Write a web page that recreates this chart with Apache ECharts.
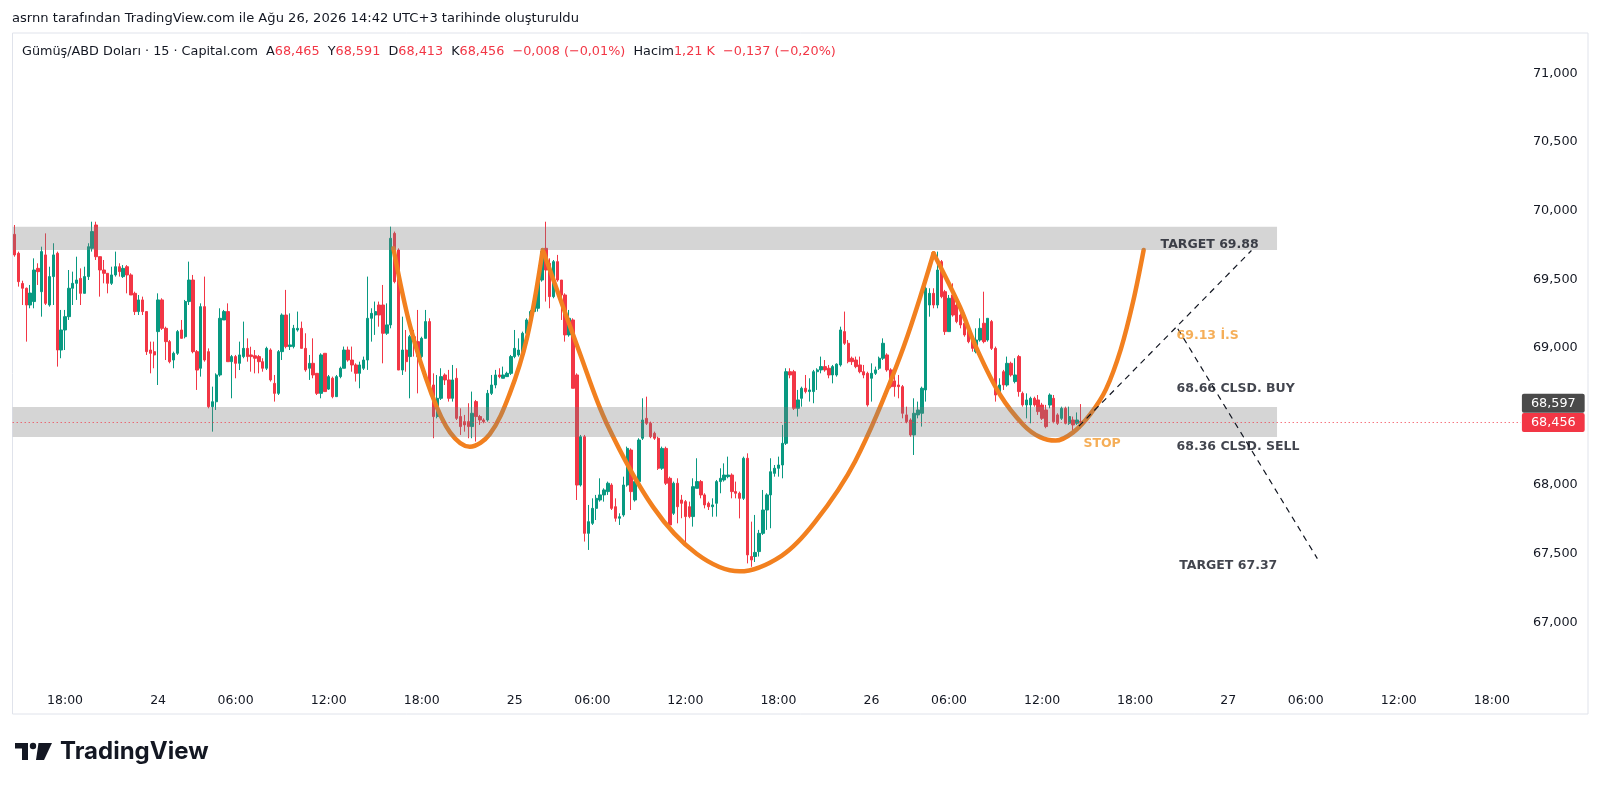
<!DOCTYPE html>
<html>
<head>
<meta charset="utf-8">
<script src="https://cdn.jsdelivr.net/npm/echarts@6/dist/echarts.min.js"></script>
<style>
html,body{margin:0;padding:0;background:#fff;}
#chart{width:1600px;height:789px;}
</style>
</head>
<body>
<div id="chart"></div>
<script>
// ---------- DATA ----------
// 15-minute bars, Aug 23 14:45 -> Aug 26 14:30 (UTC+3)
const openPrices = [
69828,69690,69470,69435,69313,69338,69580,69410,69678,69313,69520,69690,68985,69131,69228,69435,69471,69507,69398,69520,
69726,69896,69665,69568,69544,69471,69532,69592,69520,69592,69532,69398,69265,69350,69265,68985,68973,69119,69350,69143,
69046,68912,68961,69131,69082,69338,69495,68973,68852,69301,68973,68572,68608,68803,69204,69265,68900,68937,68888,68937,
68997,68949,68943,68937,68900,68852,68985,68742,68669,68973,69240,69010,69010,69131,69143,68997,68852,68888,68815,68669,
68961,68700,68779,68645,68791,68852,68985,68912,68876,68815,68852,68912,69216,69240,69313,69313,69107,69168,69835,69714,
68839,68985,68937,69082,69046,68937,69070,69192,68730,68500,68633,68803,68767,68633,68779,68500,68463,68463,68427,68609,
68500,68475,68475,68669,68730,68803,68779,68791,68815,68937,68949,68949,69107,69204,69265,69289,69495,69726,69617,69374,
69629,69495,69386,69095,69204,68803,68001,68353,67649,67722,67831,67892,67929,67953,68001,67843,67759,67783,68001,68256,
67892,68026,68342,68487,68451,68378,68342,68123,68268,68050,67795,68014,67892,67880,67843,67771,67977,68026,67929,67868,
67843,67868,68026,68038,68062,68074,67953,67941,67904,68196,67480,67480,67516,67649,67819,67929,68086,68123,68147,68305,
68827,68827,68560,68633,68706,68682,68682,68827,68840,68864,68852,68803,68803,68876,69119,69034,68925,68912,68876,68827,
68815,68779,68815,68852,68925,68949,68840,68760,68730,68718,68512,68475,68366,68512,68524,68694,69313,69398,69313,69629,
69410,69119,69386,69313,69240,69180,69143,69082,68973,69058,69180,69058,69192,68997,68657,68827,68730,68888,68755,68937,
68669,68585,68585,68633,68621,68584,68548,68584,68633,68512,68487,68560,68451,68475,68451,68465
];
const closePrices = [
69678,69483,69435,69313,69400,69568,69556,69702,69325,69520,69678,68985,69131,69228,69435,69471,69495,69398,69520,69738,
69848,69665,69568,69544,69471,69532,69592,69556,69580,69532,69386,69265,69350,69265,68973,68961,68949,69350,69143,69046,
68900,68961,69119,69070,69338,69495,68973,68839,69301,68912,68572,68608,68803,69216,69265,68900,68937,68888,68949,68997,
68937,68937,68925,68900,68852,68997,68767,68669,68973,69240,69010,69022,69143,69143,68997,68840,68888,68803,68669,68949,
68682,68791,68645,68791,68852,68985,68912,68876,68815,68876,68912,69216,69252,69265,69240,69107,69168,69799,69483,68839,
68985,68900,69082,69046,68937,69070,69192,68730,68500,68633,68791,68767,68633,68767,68487,68427,68439,68427,68524,68500,
68475,68463,68669,68730,68803,68791,68803,68815,68937,68997,68985,69107,69204,69265,69313,69495,69702,69568,69374,69629,
69495,69386,69095,69216,68706,68001,68353,67649,67734,67831,67904,67929,67965,68014,67831,67759,67770,68001,68268,67953,
68026,68329,68475,68451,68353,68342,68123,68268,68014,67710,68014,67843,67868,67771,67771,67989,68026,67929,67856,67843,
67856,68026,68050,68074,68074,67953,67941,67904,68196,67492,67455,67510,67649,67819,67929,68098,68123,68147,68305,68827,
68803,68560,68621,68706,68682,68694,68827,68840,68864,68840,68803,68864,68882,69131,69034,68900,68900,68864,68827,68803,
68585,68815,68840,68925,69034,68840,68718,68718,68718,68524,68463,68366,68524,68548,68706,69435,69398,69313,69568,69374,
69119,69362,69240,69192,69168,69095,69046,68997,69058,69143,69046,69216,68997,68657,68730,68730,68888,68803,68803,68682,
68585,68621,68633,68585,68536,68487,68427,68657,68463,68451,68560,68451,68500,68439,68475,68456
];
const highPrices = [
69896,69702,69490,69440,69459,69653,69617,69738,69835,69592,69763,69702,69277,69277,69568,69556,69665,69580,69592,69763,
69920,69920,69665,69641,69544,69592,69702,69617,69604,69604,69544,69410,69386,69374,69265,69046,69046,69398,69362,69155,
69058,68973,69131,69204,69350,69629,69532,68985,69325,69520,68997,68718,68815,69289,69277,69325,68949,68949,69046,69192,
69070,69009,68985,68949,68925,69009,68997,68803,68985,69252,69423,69252,69168,69265,69192,69107,68949,69070,68815,68961,
68961,68803,68791,68803,68864,69010,69010,69010,68888,68900,68937,69520,69289,69338,69338,69459,69325,69884,69848,69726,
69228,69131,69095,69131,69277,69082,69277,69216,68815,68803,68852,68815,68840,68876,68852,68560,68512,68597,68682,68621,
68512,68487,68694,68803,68840,68852,68864,68827,68949,69131,69070,69119,69216,69277,69325,69507,69726,69920,69653,69641,
69678,69495,69398,69277,69216,68815,68366,68366,67856,67904,67929,68050,67977,68026,68014,67904,67795,68062,68281,68268,
68050,68342,68633,68645,68463,68390,68353,68281,68281,68062,68026,68050,67929,67892,67880,68050,68196,68038,67941,67880,
67904,68038,68123,68159,68208,68086,68026,67953,68208,68232,67734,67783,67674,67965,67941,68196,68147,68208,68439,68852,
68852,68840,68694,68718,68803,68779,68840,68852,68937,68912,68876,68876,68888,69155,69265,69058,68937,68937,68937,68876,
68827,68888,68864,68937,69070,68961,68852,68803,68803,68730,68572,68487,68633,68609,68718,69447,69435,69435,69702,69641,
69423,69386,69471,69325,69252,69192,69155,69095,69143,69216,69410,69216,69204,69010,68779,68840,68937,68900,68925,68949,
68682,68669,68645,68645,68657,68600,68585,68669,68657,68524,68572,68572,68572,68500,68530,68591
];
const lowPrices = [
69665,69447,69313,69046,69289,69289,69459,69228,69313,69301,69313,68864,68925,68985,69204,69313,69350,69313,69398,69495,
69702,69641,69374,69471,69398,69459,69520,69520,69510,69398,69386,69240,69240,69240,68949,68815,68852,68730,69131,68912,
68888,68852,68949,69070,69070,69313,68961,68694,68791,68900,68560,68390,68548,68791,69204,68900,68633,68779,68839,68925,
68900,68827,68815,68815,68827,68839,68755,68609,68657,68912,68997,68985,68997,69119,68997,68827,68767,68779,68657,68633,
68682,68694,68633,68645,68779,68852,68900,68827,68755,68706,68839,68840,69046,69095,69155,68888,69095,69143,69471,68839,
68803,68827,68633,68937,68669,68925,69070,68718,68342,68487,68621,68730,68609,68609,68475,68366,68390,68342,68342,68318,
68439,68451,68463,68657,68706,68779,68779,68791,68803,68925,68937,68937,69082,69192,69252,69265,69483,69338,69289,69362,
69483,69204,69046,69082,68706,67892,67990,67589,67528,67710,67746,67880,67880,67929,67819,67734,67710,67770,67989,67819,
67880,68014,68329,68439,68342,68330,68111,68111,68001,67698,67783,67722,67759,67552,67759,67698,67977,67904,67831,67819,
67770,67771,67941,68026,68050,67904,67904,67758,67892,67430,67405,67440,67480,67637,67674,67686,68062,68062,68050,68293,
68779,68548,68500,68572,68669,68609,68597,68694,68815,68827,68779,68742,68791,68864,69022,68888,68876,68852,68815,68779,
68572,68609,68803,68840,68912,68827,68706,68645,68633,68487,68451,68353,68220,68487,68427,68609,69228,69289,69289,69362,
69095,69119,69228,69180,69143,69082,69034,68973,68961,69046,69034,69046,68985,68609,68645,68694,68718,68791,68742,68645,
68572,68487,68451,68572,68512,68475,68415,68560,68451,68439,68475,68443,68439,68366,68439,68413
];

// drawn pattern arcs: [bar position, price]
const leftShoulderArc = [[97.7,69726],[102.0,69160],[107.6,68660],[112.3,68385],[117.4,68280],[122.5,68370],[127.6,68660],[132.2,69080],[136.2,69714]];
const headArc = [[136.4,69701],[145.8,68960],[152.7,68450],[164.7,67840],[175.9,67500],[187.0,67372],[197.8,67485],[206.4,67730],[216.8,68175],[228.4,68940],[237.0,69690]];
const rightShoulderArc = [[237.0,69690],[243.8,69300],[248.1,68998],[254.2,68657],[260.2,68439],[264.5,68350],[268.5,68325],[273.0,68385],[277.5,68520],[281.5,68700],[285.3,68990],[288.5,69340],[291.2,69714]];
const buyPath = [[274.5,68430],[319.0,69710]];
const sellPath = [[300.0,69140],[336.0,67465]];
// zones: [from bar, to bar, low price, high price]
const zones = [[-0.5,325.6,69714,69884],[-0.5,325.6,68351,68570]];
// text notes: [text, bar, price, kind]
const notes = [
  ['TARGET 69.88', 295.7, 69745, 'dark'],
  ['69.13 İ.S', 299.8, 69087, 'orange'],
  ['68.66 CLSD. BUY', 299.8, 68699, 'dark'],
  ['STOP', 275.8, 68300, 'orange'],
  ['68.36 CLSD. SELL', 299.8, 68273, 'dark'],
  ['TARGET 67.37', 300.5, 67409, 'dark']
];
const lastPrice = 68456;
const markPrice = 68597;
const tickLabels = [
  ['23 18:00','18:00'],['24 01:00','24'],['24 06:00','06:00'],['24 12:00','12:00'],['24 18:00','18:00'],
  ['25 01:00','25'],['25 06:00','06:00'],['25 12:00','12:00'],['25 18:00','18:00'],
  ['26 01:00','26'],['26 06:00','06:00'],['26 12:00','12:00'],['26 18:00','18:00'],
  ['27 01:00','27'],['27 06:00','06:00'],['27 12:00','12:00'],['27 18:00','18:00']
];
const priceHidden = [66500, 68500, 71500];

// ---------- build ----------
const TOTAL_SLOTS = 389;
function hhmm(t){const h=Math.floor(t/60),m=t%60;return (h<10?'0':'')+h+':'+(m<10?'0':'')+m;}
const categories = [];
for (let t = 14*60+45; t < 1440; t += 15) categories.push('23 ' + hhmm(t));
for (const d of [24,25,26,27]) {
  for (let t = 60; t < 1440 && categories.length < TOTAL_SLOTS; t += 15) categories.push(d + ' ' + hhmm(t));
}
const tickMap = {};
tickLabels.forEach(([k,v]) => tickMap[k] = v);
const candleData = openPrices.map((o,i) => [o, closePrices[i], lowPrices[i], highPrices[i]]);

const FONT = 'DejaVu Sans';
const DARK = '#131722', RED = '#f23645', GREEN = '#089981';
const ARC = '#f2801f', ORANGE_TXT = '#f39a2e';

function fmtNum(v){return String(v).replace(/\B(?=(\d{3})+(?!\d))/g, ',');}

const chart = echarts.init(document.getElementById('chart'), null, {renderer:'canvas'});
const arcSeries = (data) => ({
  type:'line', xAxisIndex:1, yAxisIndex:0, data, smooth:0.35, showSymbol:false, symbol:'none',
  lineStyle:{color:ARC, width:4.5, cap:'round', join:'round'}, z:3, silent:true
});

chart.setOption({
  animation:false,
  backgroundColor:'#ffffff',
  grid:{left:12.7, right:79.1, top:4.9, bottom:98, containLabel:false},
  xAxis:[
    {type:'category', data:categories, boundaryGap:true,
     axisLine:{show:false}, axisTick:{show:false}, splitLine:{show:false},
     axisLabel:{interval:(i,v)=>tickMap[v]!==undefined, formatter:(v)=>tickMap[v]||'',
       color:DARK, fontSize:12.5, fontFamily:FONT, margin:3}},
    {type:'value', min:-0.5, max:TOTAL_SLOTS-0.5, show:false, splitLine:{show:false}}
  ],
  yAxis:[{type:'value', position:'right', min:66500, max:71500, interval:500, scale:true,
    axisLine:{show:false}, axisTick:{show:false}, splitLine:{show:false},
    axisLabel:{margin:12, color:DARK, fontSize:12.8, fontFamily:FONT,
      formatter:(v)=>priceHidden.includes(v)?'':fmtNum(v)}}],
  series:[
    {type:'candlestick', xAxisIndex:0, yAxisIndex:0, data:candleData, barWidth:2.9, z:2,
     itemStyle:{color:GREEN, color0:RED, borderColor:GREEN, borderColor0:RED, borderWidth:1},
     markLine:{symbol:['none','none'], silent:true, animation:false,
       data:[
         {yAxis:lastPrice, lineStyle:{type:[1,3], color:RED, width:1},
          label:{show:true, position:'end', distance:1, formatter:fmtNum(lastPrice), color:'#fff',
            backgroundColor:RED, padding:[3,9,3,9], fontSize:12.8, fontFamily:FONT, borderRadius:2}}
       ]}},
    arcSeries(leftShoulderArc),
    arcSeries(headArc),
    arcSeries(rightShoulderArc),
    {type:'custom', xAxisIndex:1, yAxisIndex:0, data:zones, z:4, silent:true,
     encode:{x:[0,1], y:[2,3]},
     renderItem:(params, api)=>{
       const p1 = api.coord([api.value(0), api.value(3)]);
       const p2 = api.coord([api.value(1), api.value(2)]);
       return {type:'rect', shape:{x:p1[0], y:p1[1], width:p2[0]-p1[0], height:p2[1]-p1[1]},
         style:{fill:'rgba(125,125,125,0.32)'}};
     }},
    {type:'line', xAxisIndex:1, yAxisIndex:0, data:buyPath, showSymbol:false, symbol:'none', z:5, silent:true,
     lineStyle:{color:DARK, width:1.2, type:[6,5]},
     markLine:{symbol:['none','none'], silent:true, animation:false,
       data:[{yAxis:markPrice, lineStyle:{color:'rgba(0,0,0,0)', width:1},
          label:{show:true, position:'end', distance:1, formatter:fmtNum(markPrice), color:'#fff',
            backgroundColor:'#4a4a4a', padding:[3,9,3,9], fontSize:12.8, fontFamily:FONT, borderRadius:2}}]}},
    {type:'line', xAxisIndex:1, yAxisIndex:0, data:sellPath, showSymbol:false, symbol:'none', z:5, silent:true,
     lineStyle:{color:DARK, width:1.2, type:[6,5]}},
    {type:'scatter', xAxisIndex:1, yAxisIndex:0, z:6, silent:true, symbolSize:1,
     itemStyle:{color:'rgba(0,0,0,0)'},
     data:notes.map(n=>({name:n[0], value:[n[1], n[2]],
       label:{show:true, position:[0,0], align:'left', verticalAlign:'middle', formatter:n[0],
         color:n[3]==='orange'?ORANGE_TXT:DARK, fontSize:12.5, fontWeight:'bold', fontFamily:FONT}}))}
  ],
  graphic:[
    {type:'rect', shape:{x:12.5, y:33, width:1575.5, height:681}, style:{fill:'none', stroke:'#e0e3eb', lineWidth:1}, silent:true, z:0},
    {type:'text', x:12, y:18.6, style:{text:'asrnn tarafından TradingView.com ile Ağu 26, 2026 14:42 UTC+3 tarihinde oluşturuldu',
      fill:DARK, font:'13.1px "DejaVu Sans"', verticalAlign:'middle'}},
    {type:'text', x:22, y:52, style:{
      text:'{t|Gümüş/ABD Doları · 15 · Capital.com}  {t|A}{r|68,465}  {t|Y}{r|68,591}  {t|D}{r|68,413}  {t|K}{r|68,456}  {r|−0,008 (−0,01%)}  {t|Hacim}{r|1,21 K}  {r|−0,137 (−0,20%)}',
      font:'12.8px "DejaVu Sans"', verticalAlign:'middle',
      rich:{t:{fill:DARK, font:'12.8px "DejaVu Sans"'}, r:{fill:RED, font:'12.8px "DejaVu Sans"'}}}},
    {type:'group', children:[
      {type:'rect', shape:{x:15, y:743, width:13, height:5.5}, style:{fill:DARK}},
      {type:'rect', shape:{x:22, y:743, width:6, height:17}, style:{fill:DARK}},
      {type:'circle', shape:{cx:33, cy:746, r:3.2}, style:{fill:DARK}},
      {type:'polygon', shape:{points:[[38.5,743],[52,743],[44,760],[36,760]]}, style:{fill:DARK}}
    ]},
    {type:'text', x:60, y:752, style:{text:'TradingView', fill:DARK, font:'bold 24px Inter', verticalAlign:'middle'}}
  ]
});
</script>
</body>
</html>
